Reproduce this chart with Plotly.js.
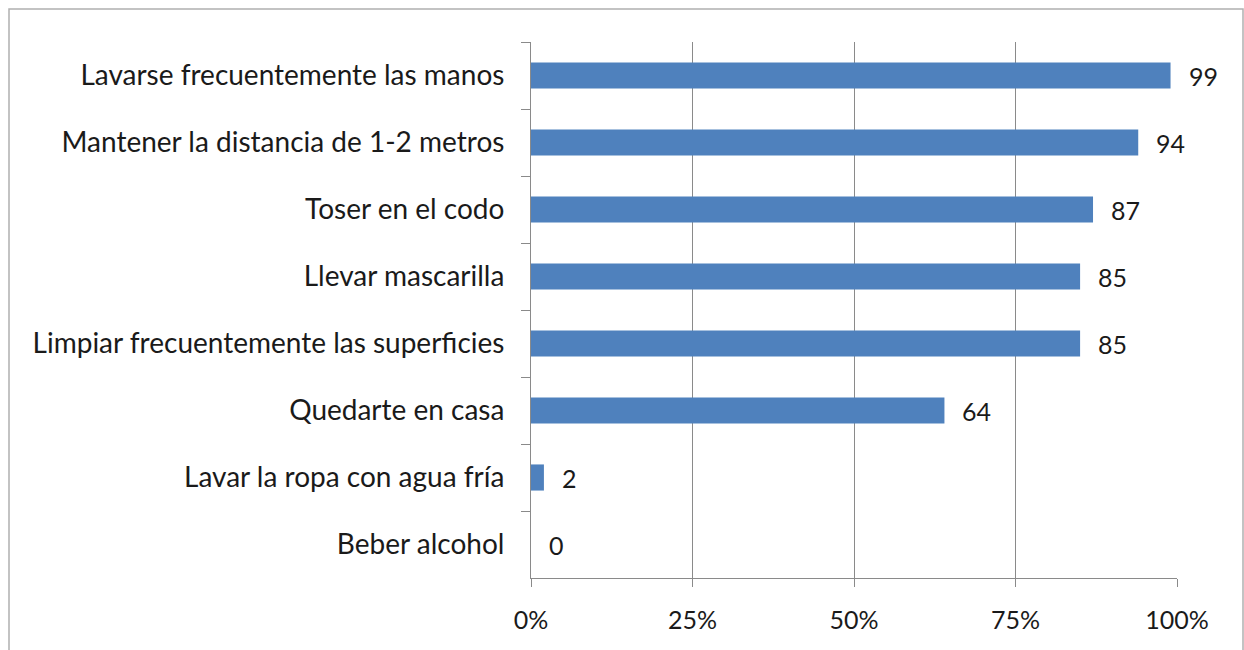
<!DOCTYPE html>
<html><head><meta charset="utf-8">
<script src="https://cdn.plot.ly/plotly-3.0.1.min.js"></script>
<style>html,body{margin:0;padding:0;background:#fff;}#chart{width:1244px;height:650px;}</style>
</head><body><div id="chart"></div>
<script>
const categories = ["Lavarse frecuentemente las manos","Mantener la distancia de 1-2 metros","Toser en el codo","Llevar mascarilla","Limpiar frecuentemente las superficies","Quedarte en casa","Lavar la ropa con agua fría","Beber alcohol"];
const values = [99, 94, 87, 85, 85, 64, 2, 0];
const tickVals = [0, 25, 50, 75, 100];
const tickText = ["0%", "25%", "50%", "75%", "100%"];

const FONT = "Lato, 'Open Sans', sans-serif";
const trace = {
  type: 'bar', orientation: 'h',
  x: values, y: categories,
  width: 0.39,
  marker: {color: '#4F81BD', line: {width: 0}},
  hoverinfo: 'none'
};
const annotations = values.map((v, i) => ({
  x: v, y: categories[i], xref: 'x', yref: 'y',
  text: String(v), showarrow: false, xanchor: 'left', xshift: 16,
  font: {family: FONT, size: 25, color: '#1a1a1a'}
}));
const layout = {
  width: 1244, height: 650,
  margin: {l: 531, r: 67, t: 42, b: 72},
  paper_bgcolor: '#fff', plot_bgcolor: '#fff',
  showlegend: false,
  font: {family: FONT, size: 25, color: '#1a1a1a'},
  xaxis: {
    range: [0, 100], tickvals: tickVals, ticktext: tickText,
    showgrid: true, gridcolor: '#8a8a8a', gridwidth: 1,
    zeroline: false, showline: true, linecolor: '#8a8a8a', linewidth: 1,
    ticks: 'outside', ticklen: 8, tickcolor: '#8a8a8a',
    ticklabelstandoff: 12, fixedrange: true
  },
  yaxis: {
    autorange: 'reversed', type: 'category',
    showline: true, linecolor: '#8a8a8a', linewidth: 1,
    ticks: 'outside', tickson: 'boundaries', ticklen: 9, tickcolor: '#8a8a8a',
    tickfont: {family: FONT, size: 28, color: '#1a1a1a'},
    showgrid: false, ticklabelstandoff: 20, fixedrange: true
  },
  annotations: annotations,
  shapes: [{
    type: 'rect', xref: 'paper', yref: 'paper',
    x0: (9-531)/646, x1: (1243-531)/646, y0: -0.2, y1: (578-9)/536,
    line: {color: '#b0b0b0', width: 1.5}, layer: 'below'
  }]
};
Plotly.newPlot('chart', [trace], layout, {staticPlot: true});
</script></body></html>
